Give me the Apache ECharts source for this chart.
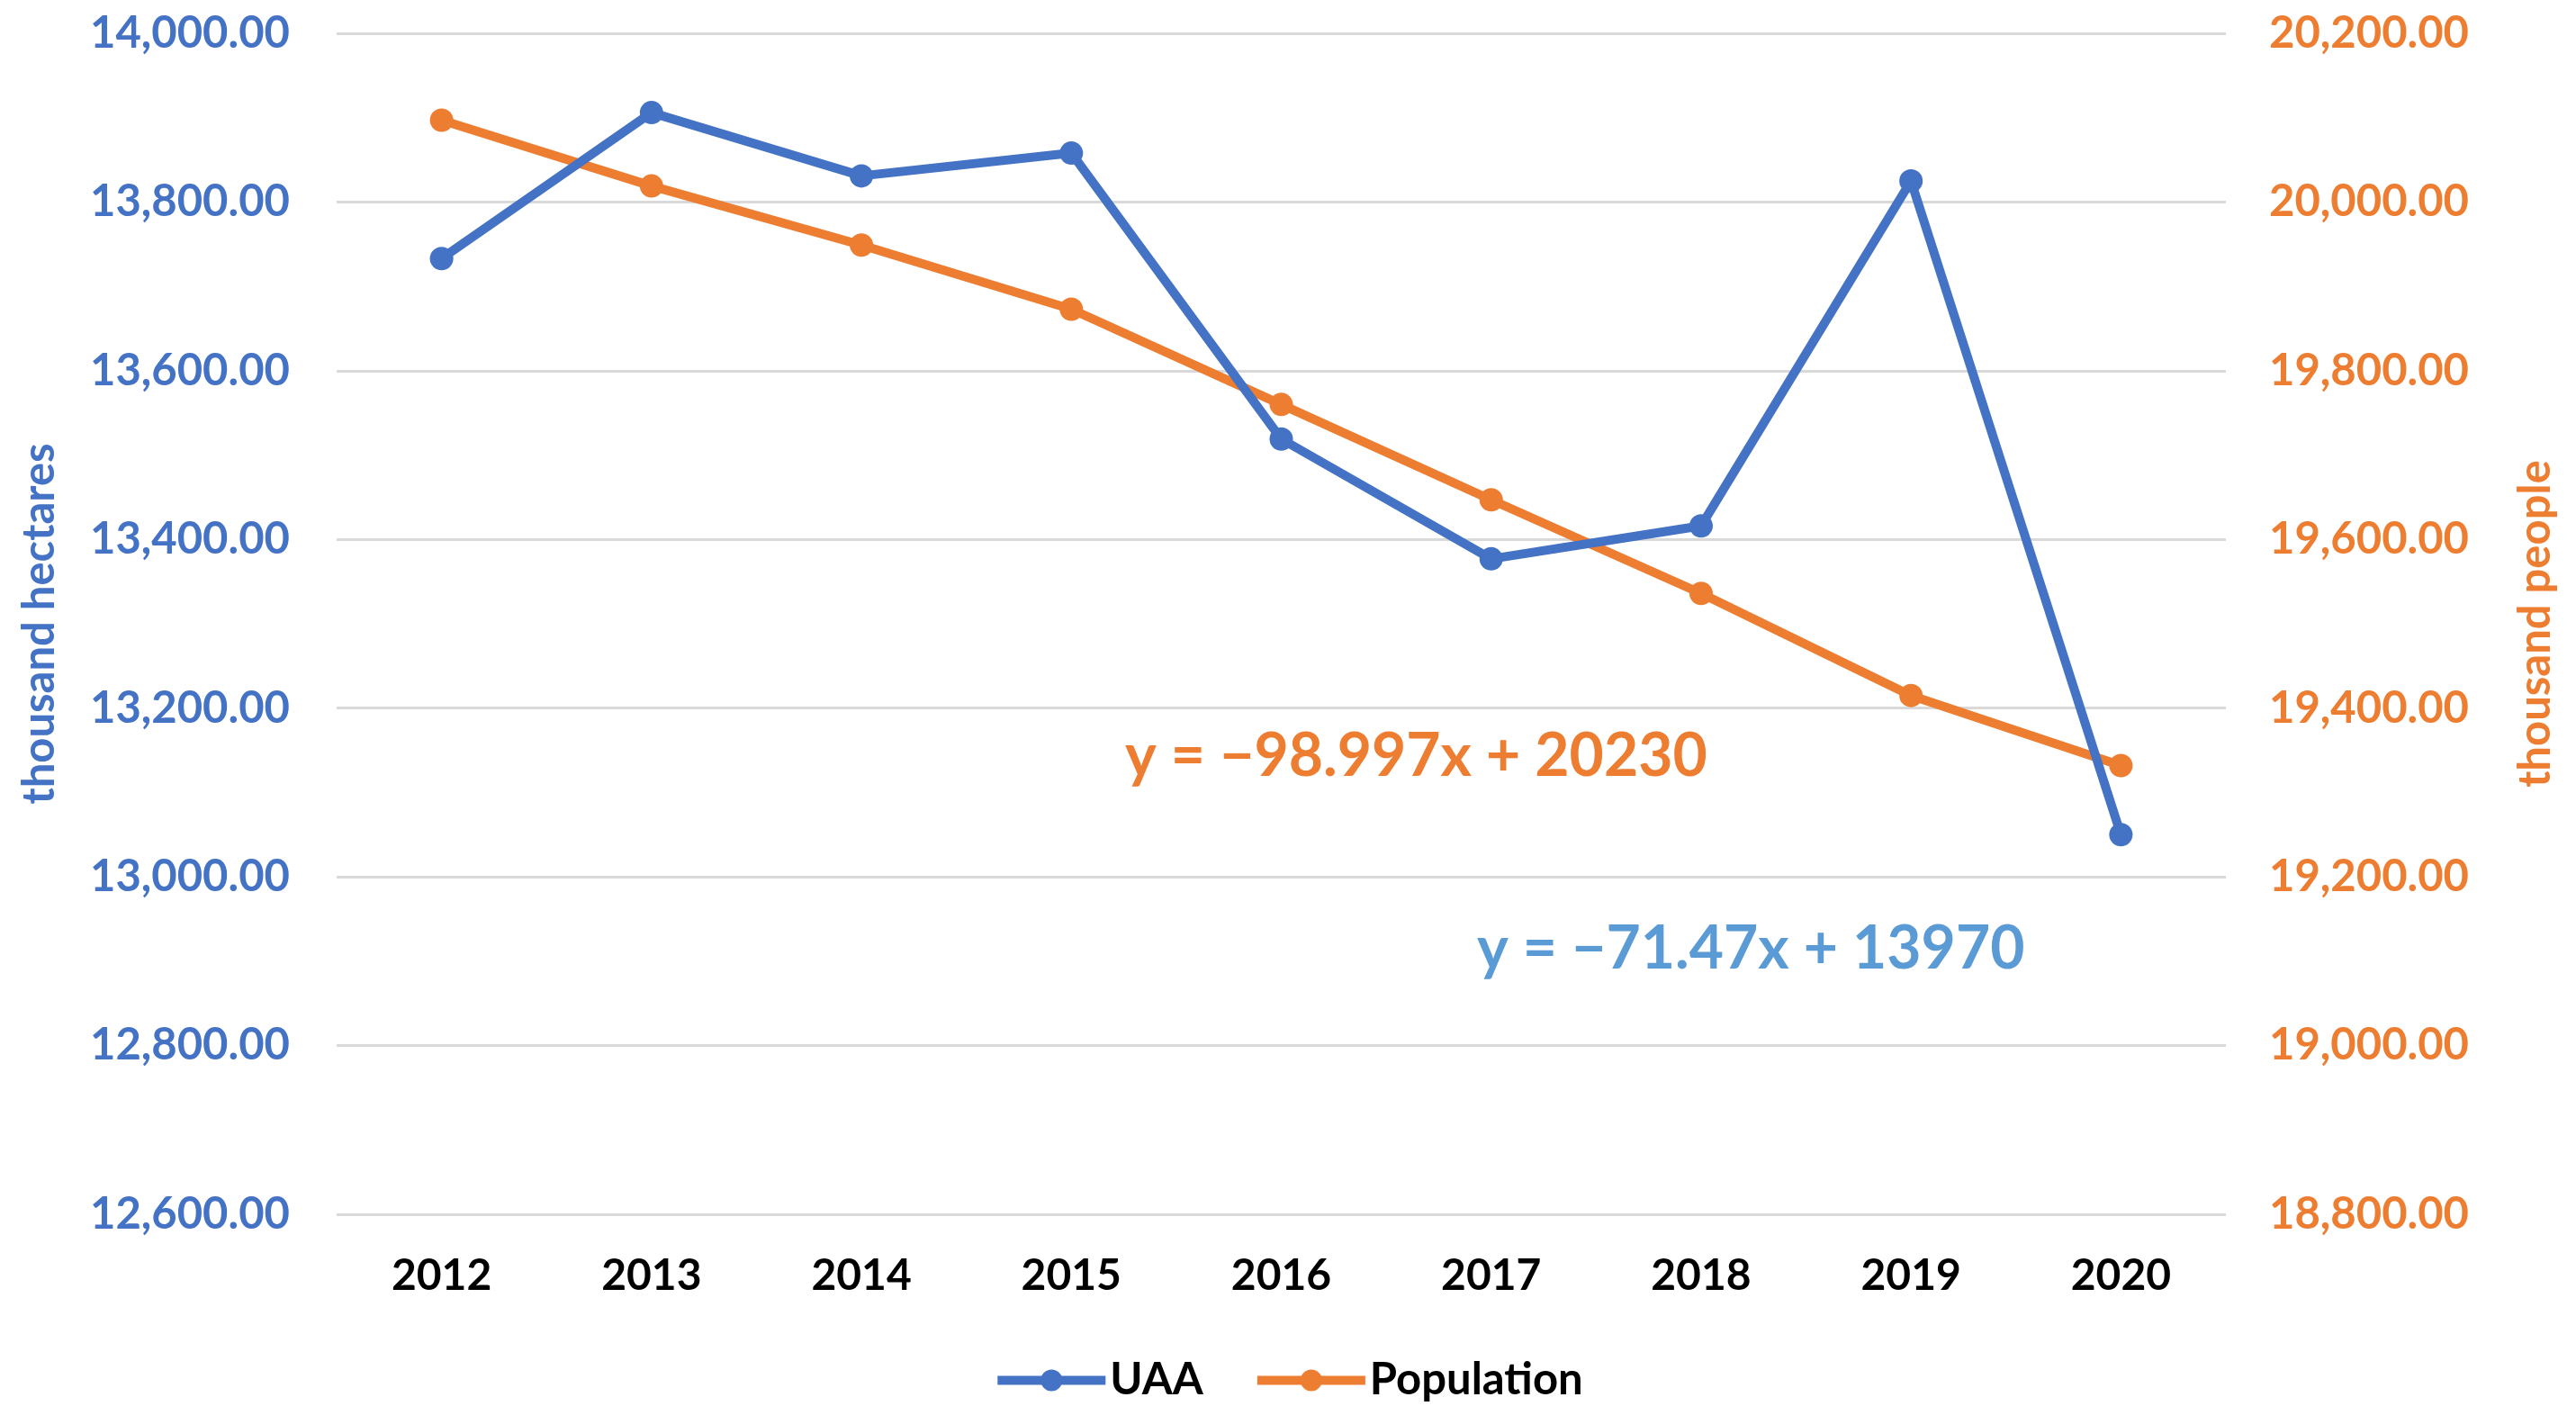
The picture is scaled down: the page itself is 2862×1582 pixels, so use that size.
<!DOCTYPE html>
<html>
<head>
<meta charset="utf-8">
<script src="https://cdn.jsdelivr.net/npm/echarts@6/dist/echarts.min.js"></script>
<style>
html,body{margin:0;padding:0;background:#fff;}
#chart{width:2862px;height:1582px;}
</style>
</head>
<body>
<div id="chart"></div>
<script>
const years = ['2012','2013','2014','2015','2016','2017','2018','2019','2020'];
const uaa = [13733, 13906, 13831, 13858, 13519, 13377, 13416, 13825, 13050];
const population = [20097, 20019, 19949, 19873, 19760, 19647, 19536, 19415, 19332];
const uaaTrend = 'y = \u221271.47x + 13970';
const popTrend = 'y = \u221298.997x + 20230';

const FONT = 'Lato, "Open Sans", sans-serif';
const BLUE = '#4472C4';
const ORANGE = '#ED7D31';
const LIGHTBLUE = '#5B9BD5';
const fmt = v => v.toLocaleString('en-US', {minimumFractionDigits: 2, maximumFractionDigits: 2});

const chart = echarts.init(document.getElementById('chart'));
chart.setOption({
  backgroundColor: '#fff',
  animation: false,
  textStyle: {fontFamily: FONT},
  grid: {left: 374, right: 389, top: 37, bottom: 233, containLabel: false},
  legend: {
    top: 1504, left: 'center',
    itemWidth: 120, itemHeight: 30, itemGap: 55,
    lineStyle: {width: 10},
    textStyle: {fontFamily: FONT, fontSize: 49, fontWeight: 'bold', color: '#000'},
    data: ['UAA', 'Population']
  },
  xAxis: {
    type: 'category', data: years, boundaryGap: true,
    axisLine: {show: false}, axisTick: {show: false},
    axisLabel: {margin: 45, fontFamily: FONT, fontSize: 48, fontWeight: 'bold', color: '#000'}
  },
  yAxis: [
    {
      type: 'value', min: 12600, max: 14000, interval: 200, position: 'left',
      name: 'thousand hectares', nameLocation: 'middle', nameGap: 305,
      nameTextStyle: {fontFamily: FONT, fontSize: 49, fontWeight: 'bold', color: BLUE},
      axisLine: {show: false}, axisTick: {show: false},
      axisLabel: {margin: 52, fontFamily: FONT, fontSize: 49, fontWeight: 'bold', color: BLUE, formatter: fmt},
      splitLine: {lineStyle: {color: '#D9D9D9', width: 3}}
    },
    {
      type: 'value', min: 18800, max: 20200, interval: 200, position: 'right',
      name: 'thousand people', nameLocation: 'middle', nameGap: 320,
      nameTextStyle: {fontFamily: FONT, fontSize: 49, fontWeight: 'bold', color: ORANGE},
      axisLine: {show: false}, axisTick: {show: false},
      axisLabel: {margin: 48, fontFamily: FONT, fontSize: 49, fontWeight: 'bold', color: ORANGE, formatter: fmt},
      splitLine: {show: false}
    }
  ],
  series: [
    {
      name: 'UAA', type: 'line', yAxisIndex: 0, data: uaa,
      symbol: 'circle', symbolSize: 26,
      itemStyle: {color: BLUE}, lineStyle: {color: BLUE, width: 10}, z: 3
    },
    {
      name: 'Population', type: 'line', yAxisIndex: 1, data: population,
      symbol: 'circle', symbolSize: 26,
      itemStyle: {color: ORANGE}, lineStyle: {color: ORANGE, width: 10}, z: 2
    }
  ],
  graphic: [
    {type: 'text', left: 1250, top: 808, z: 10,
     style: {text: popTrend, fill: ORANGE, font: 'bold 66px ' + FONT}},
    {type: 'text', left: 1641, top: 1022, z: 10,
     style: {text: uaaTrend, fill: LIGHTBLUE, font: 'bold 66px ' + FONT}}
  ]
});
</script>
</body>
</html>
